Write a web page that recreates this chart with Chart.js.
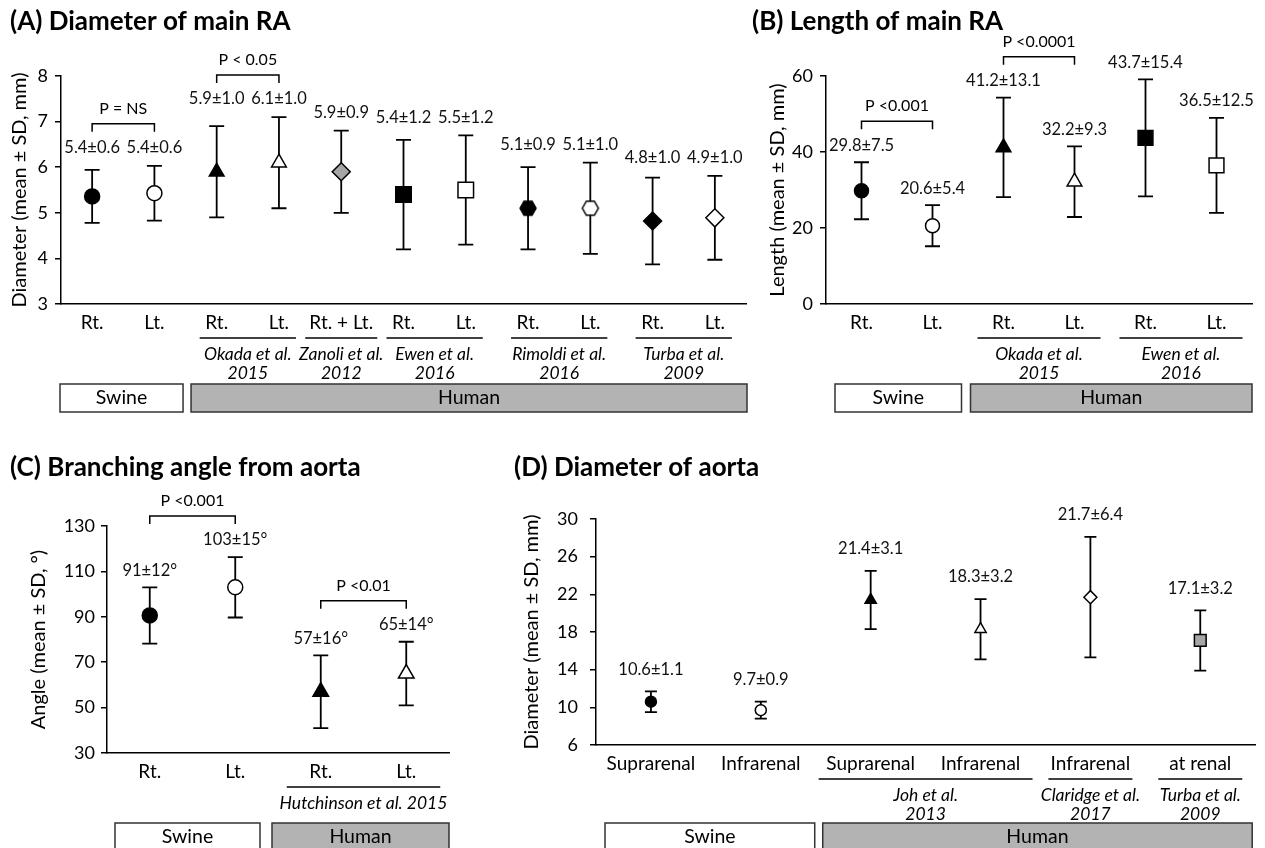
<!DOCTYPE html>
<html><head><meta charset="utf-8">
<script src="https://cdn.jsdelivr.net/npm/chart.js@4.4.0/dist/chart.umd.min.js"></script>
<style>
html,body{margin:0;padding:0;background:#fff;}
#wrap{position:relative;width:1265px;height:848px;overflow:hidden;background:#fff;}
canvas{position:absolute;left:0;top:0;}
</style></head><body><div id="wrap">
<canvas id="cA" width="1265" height="848"></canvas>
<canvas id="cB" width="1265" height="848"></canvas>
<canvas id="cC" width="1265" height="848"></canvas>
<canvas id="cD" width="1265" height="848"></canvas>
</div>
<script>
// ---------- Panel A : Diameter of main RA ----------
const aCategories = ['Rt.','Lt.','Rt.','Lt.','Rt. + Lt.','Rt.','Lt.','Rt.','Lt.','Rt.','Lt.'];
const aMeans = [5.36,5.43,5.9,6.1,5.9,5.4,5.5,5.1,5.1,4.82,4.89];
const aSD    = [0.58,0.6,1.0,1.0,0.9,1.2,1.2,0.9,1.0,0.95,0.92];
const aLabels = ['5.4±0.6','5.4±0.6','5.9±1.0','6.1±1.0','5.9±0.9','5.4±1.2','5.5±1.2','5.1±0.9','5.1±1.0','4.8±1.0','4.9±1.0'];
const aMarkers = ['circle','circle','triangle','triangle','diamond','square','square','hexagon','hexagon','diamond','diamond'];
const aFills = ['black','white','black','white','gray','black','white','black','white','black','white'];
const aStudies = [[2,3,'Okada et al.','2015'],[4,4,'Zanoli et al.','2012'],[5,6,'Ewen et al.','2016'],[7,8,'Rimoldi et al.','2016'],[9,10,'Turba et al.','2009']];
const aSpecies = [[0,1,'Swine'],[2,10,'Human']];
const aPValues = [[0,1,'P = NS'],[2,3,'P < 0.05']];
const aYRange = [3,8,1];

// ---------- Panel B : Length of main RA ----------
const bCategories = ['Rt.','Lt.','Rt.','Lt.','Rt.','Lt.'];
const bMeans = [29.8,20.6,41.2,32.2,43.7,36.5];
const bSD    = [7.5,5.4,13.1,9.3,15.4,12.5];
const bLabels = ['29.8±7.5','20.6±5.4','41.2±13.1','32.2±9.3','43.7±15.4','36.5±12.5'];
const bMarkers = ['circle','circle','triangle','triangle','square','square'];
const bFills = ['black','white','black','white','black','white'];
const bStudies = [[2,3,'Okada et al.','2015'],[4,5,'Ewen et al.','2016']];
const bSpecies = [[0,1,'Swine'],[2,5,'Human']];
const bPValues = [[0,1,'P <0.001'],[2,3,'P <0.0001']];
const bYRange = [0,60,20];

// ---------- Panel C : Branching angle from aorta ----------
const cCategories = ['Rt.','Lt.','Rt.','Lt.'];
const cMeans = [90.6,103,57,65];
const cSD    = [12.4,13.3,16,14];
const cLabels = ['91±12°','103±15°','57±16°','65±14°'];
const cMarkers = ['circle','circle','triangle','triangle'];
const cFills = ['black','white','black','white'];
const cStudies = [[2,3,'Hutchinson et al. 2015']];
const cSpecies = [[0,1,'Swine'],[2,3,'Human']];
const cPValues = [[0,1,'P <0.001'],[2,3,'P <0.01']];
const cYRange = [30,130,20];

// ---------- Panel D : Diameter of aorta ----------
const dCategories = ['Suprarenal','Infrarenal','Suprarenal','Infrarenal','Infrarenal','at renal'];
const dMeans = [10.6,9.7,21.4,18.3,21.7,17.1];
const dSD    = [1.1,0.9,3.1,3.2,6.4,3.2];
const dLabels = ['10.6±1.1','9.7±0.9','21.4±3.1','18.3±3.2','21.7±6.4','17.1±3.2'];
const dMarkers = ['circle','circle','triangle','triangle','diamond','square'];
const dFills = ['black','white','black','white','white','gray'];
const dStudies = [[2,3,'Joh et al.','2013'],[4,4,'Claridge et al.','2017'],[5,5,'Turba et al.','2009']];
const dSpecies = [[0,1,'Swine'],[2,5,'Human']];
const dPValues = [];
const dYRange = [6,30,4];

// ---------- styling ----------
const FONT = 'Lato, "Open Sans", sans-serif';
const FILL = {black:'#000000', white:'#ffffff', gray:'#a6a6a6'};
const W = 1265, H = 848;
const F = {title:26, tick:18, xlab:19, ytitle:20, value:16.5, pval:16, study:17.5, box:19.5};

function hexImage(fill){
  const w=16,h=14;
  const c=document.createElement('canvas'); c.width=w+4; c.height=h+4;
  const g=c.getContext('2d'); const cx=c.width/2, cy=c.height/2;
  g.beginPath();
  g.moveTo(cx-w/2,cy); g.lineTo(cx-w/4,cy-h/2); g.lineTo(cx+w/4,cy-h/2);
  g.lineTo(cx+w/2,cy); g.lineTo(cx+w/4,cy+h/2); g.lineTo(cx-w/4,cy+h/2); g.closePath();
  g.fillStyle=fill; g.fill(); g.lineWidth=1.5; g.strokeStyle='#000'; g.stroke();
  return c;
}

function build(id, D, S){
  const n = D.categories.length;
  const styleOf = m => ({circle:'circle',triangle:'triangle',diamond:'rectRot',square:'rect'})[m];
  const pStyles = D.markers.map((m,i)=> m==='hexagon' ? hexImage(FILL[D.fills[i]]) : styleOf(m));
  const pRadius = D.markers.map(m => S.size[m] || 8);
  const pFill = D.fills.map(f=>FILL[f]);
  const lh = 1.2*F.ytitle;
  const yWidth = S.area.left - (S.yTitleX - 4 - lh/2);
  const xHeight = 40;

  const ann = {
    id:'ann'+id,
    beforeDatasetsDraw(chart){
      const ctx=chart.ctx, xs=chart.scales.x, ys=chart.scales.y;
      ctx.save(); ctx.strokeStyle='#000'; ctx.lineWidth=1.8;
      for(let i=0;i<n;i++){
        const x=xs.getPixelForValue(i);
        const yt=ys.getPixelForValue(D.means[i]+D.sds[i]);
        const yb=ys.getPixelForValue(D.means[i]-D.sds[i]);
        ctx.beginPath();
        ctx.moveTo(x,yt); ctx.lineTo(x,yb);
        ctx.moveTo(x-S.cap,yt); ctx.lineTo(x+S.cap,yt);
        ctx.moveTo(x-S.cap,yb); ctx.lineTo(x+S.cap,yb);
        ctx.stroke();
      }
      ctx.restore();
    },
    afterDraw(chart){
      const ctx=chart.ctx, xs=chart.scales.x, ys=chart.scales.y;
      const X=i=>xs.getPixelForValue(i);
      const axisY = chart.chartArea.bottom;
      const sp = X(1)-X(0);
      ctx.save();
      ctx.fillStyle='#000'; ctx.strokeStyle='#000';
      // title
      ctx.font='bold '+F.title+'px '+FONT; ctx.textAlign='left'; ctx.textBaseline='middle';
      ctx.fillText(S.title, S.titleX, S.titleY);
      // value labels
      const tops = D.means.map((m,i)=>ys.getPixelForValue(m+D.sds[i]));
      const labY = tops.map(t=>t-S.labelOff);
      if(S.labelGroups){
        S.labelGroups.forEach(g=>{
          const mn=Math.min(...g.map(i=>tops[i]))-S.labelOff;
          g.forEach(i=>labY[i]=mn);
        });
      }
      ctx.font=F.value+'px '+FONT; ctx.textAlign='center'; ctx.fillStyle='#111';
      D.labels.forEach((t,i)=>ctx.fillText(t,X(i),labY[i]));
      ctx.fillStyle='#000';
      // p-value brackets
      ctx.lineWidth=1.5; ctx.font=F.pval+'px '+FONT;
      D.pvals.forEach(([a,b,t])=>{
        const by=Math.min(labY[a],labY[b])-24;
        ctx.beginPath();
        ctx.moveTo(X(a),by+8); ctx.lineTo(X(a),by); ctx.lineTo(X(b),by); ctx.lineTo(X(b),by+8);
        ctx.stroke();
        ctx.fillText(t,(X(a)+X(b))/2,by-15);
      });
      // study groups
      ctx.font='italic '+F.study+'px '+FONT;
      D.studies.forEach(([a,b,t1,t2])=>{
        const cx=(X(a)+X(b))/2;
        const pad = a===b ? S.singlePad : S.studyPad;
        const l=X(a)-pad, r=X(b)+pad;
        ctx.beginPath(); ctx.moveTo(l,axisY+34); ctx.lineTo(r,axisY+34); ctx.stroke();
        ctx.fillText(t1,cx,axisY+50);
        if(t2) ctx.fillText(t2,cx,axisY+69);
      });
      // species boxes
      const B=S.box;
      const left0 = chart.chartArea.left + B.left;
      const right1 = chart.chartArea.right - B.right;
      const split = X(D.species[1][0]) - sp/2 + B.shift;
      const top = axisY + B.top, hgt = 28;
      const boxes = [[left0, split-B.gap/2, D.species[0][2], '#ffffff'],[split+B.gap/2, right1, D.species[1][2], '#b3b3b3']];
      ctx.font=F.box+'px '+FONT; ctx.lineWidth=1.5; ctx.strokeStyle='#333';
      boxes.forEach(([l,r,t,f])=>{
        ctx.fillStyle=f; ctx.fillRect(l,top,r-l,hgt); ctx.strokeRect(l,top,r-l,hgt);
        ctx.fillStyle='#000'; ctx.fillText(t,(l+r)/2,top+14);
      });
      ctx.restore();
    }
  };

  return new Chart(document.getElementById(id), {
    type:'line',
    data:{ labels:D.categories, datasets:[{
      data:D.means, showLine:false,
      pointStyle:pStyles, pointRadius:pRadius, pointHoverRadius:pRadius,
      pointBackgroundColor:pFill, pointBorderColor:'#000', pointBorderWidth:1.5
    }]},
    options:{
      responsive:false, maintainAspectRatio:false, animation:false,
      events:[],
      layout:{padding:{left:S.area.left-yWidth, right:W-S.area.right, top:S.area.top, bottom:H-S.area.bottom-xHeight}},
      plugins:{legend:{display:false}, title:{display:false}, tooltip:{enabled:false}},
      scales:{
        x:{type:'category', offset:true,
           grid:{display:false, drawTicks:false},
           border:{display:true,color:'#000',width:1.5},
           ticks:{color:'#000', font:{family:FONT,size:F.xlab}, padding:7, autoSkip:false, maxRotation:0},
           afterFit(s){ s.height = xHeight; }},
        y:{min:D.yr[0], max:D.yr[1],
           ticks:{stepSize:D.yr[2], color:'#000', font:{family:FONT,size:F.tick}, padding:S.tickPad},
           grid:{display:true, drawOnChartArea:false, drawTicks:true, tickLength:6, color:'#000', lineWidth:1.5},
           border:{display:true,color:'#000',width:1.5},
           title:{display:true, text:S.yTitle, color:'#000', font:{family:FONT,size:F.ytitle}, padding:{top:4,bottom:4}},
           afterFit(s){ s.width = yWidth; }}
      }
    },
    plugins:[ann]
  });
}

build('cA',
  {categories:aCategories, means:aMeans, sds:aSD, labels:aLabels, markers:aMarkers, fills:aFills, studies:aStudies, species:aSpecies, pvals:aPValues, yr:aYRange},
  {title:'(A) Diameter of main RA', titleX:10, titleY:22, area:{left:61,right:746,top:76,bottom:304},
   yTitle:'Diameter (mean ± SD, mm)', yTitleX:20, tickPad:7, cap:7.5,
   size:{circle:7.5,triangle:8.5,diamond:9,square:11,hexagon:8},
   labelOff:18, labelGroups:[[0,1],[2,3],[4],[5,6],[7,8],[9,10]], studyPad:17, singlePad:36,
   box:{top:80,left:-1,shift:1.5,gap:8,right:-1}});

build('cB',
  {categories:bCategories, means:bMeans, sds:bSD, labels:bLabels, markers:bMarkers, fills:bFills, studies:bStudies, species:bSpecies, pvals:bPValues, yr:bYRange},
  {title:'(B) Length of main RA', titleX:752, titleY:22, area:{left:826,right:1252,top:76,bottom:304},
   yTitle:'Length (mean ± SD, mm)', yTitleX:778, tickPad:7, cap:7.5,
   size:{circle:7,triangle:8.5,square:10.5},
   labelOff:17, studyPad:26, singlePad:30,
   box:{top:80,left:9,shift:-2,gap:9,right:0}});

build('cC',
  {categories:cCategories, means:cMeans, sds:cSD, labels:cLabels, markers:cMarkers, fills:cFills, studies:cStudies, species:cSpecies, pvals:cPValues, yr:cYRange},
  {title:'(C) Branching angle from aorta', titleX:10, titleY:468, area:{left:107,right:449,top:526,bottom:753},
   yTitle:'Angle (mean ± SD, °)', yTitleX:39, tickPad:6, cap:7.5,
   size:{circle:7.5,triangle:9},
   labelOff:17, studyPad:34, singlePad:34,
   box:{top:70,left:8,shift:-12,gap:12,right:0}});

build('cD',
  {categories:dCategories, means:dMeans, sds:dSD, labels:dLabels, markers:dMarkers, fills:dFills, studies:dStudies, species:dSpecies, pvals:dPValues, yr:dYRange},
  {title:'(D) Diameter of aorta', titleX:514, titleY:468, area:{left:596,right:1263,top:519,bottom:745},
   yTitle:'Diameter (mean ± SD, mm)', yTitleX:532, tickPad:12, cap:6,
   size:{circle:5.5,triangle:6.5,diamond:6.5,square:8.3},
   labelOff:22, studyPad:52, singlePad:42,
   box:{top:78,left:9,shift:3,gap:8,right:3}});
</script>
</body></html>
